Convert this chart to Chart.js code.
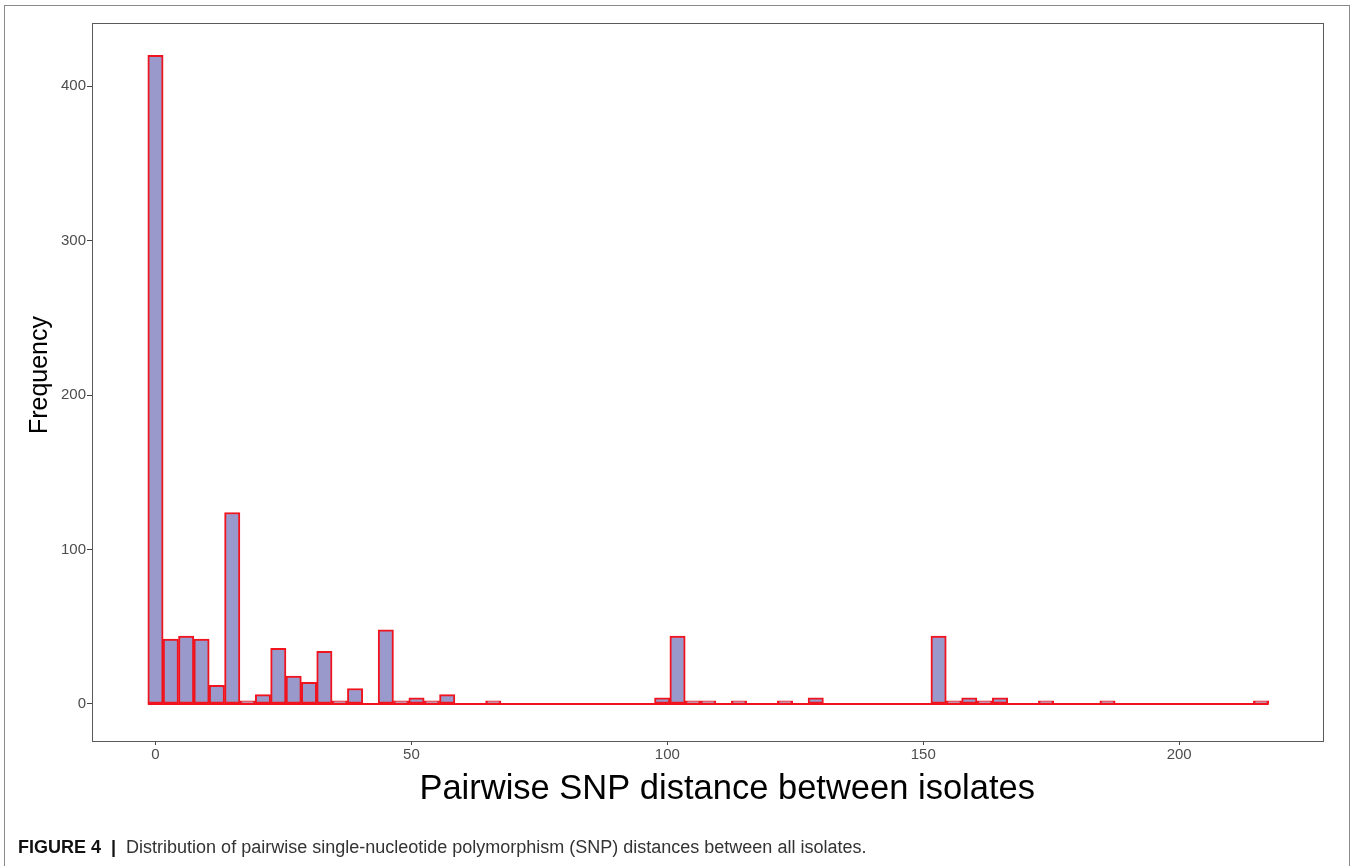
<!DOCTYPE html>
<html>
<head>
<meta charset="utf-8">
<script src="https://cdn.jsdelivr.net/npm/chart.js@4/dist/chart.umd.min.js"></script>
<style>
  html, body { margin: 0; padding: 0; background: #fff; }
  #wrap { position: relative; width: 1352px; height: 866px; overflow: hidden; }
  #frame { position: absolute; left: 4px; top: 5px; width: 1346px; height: 880px; border: 1px solid #8a8a8a; box-sizing: border-box; }
  #chartBox { position: absolute; left: 0; top: 0; width: 1352px; height: 866px; }
  #caption { position: absolute; left: 18px; top: 837px; font-family: "Liberation Sans", Arial, sans-serif; font-size: 18px; color: #333; white-space: nowrap; }
  #caption b { color: #111; }
</style>
</head>
<body>
<div id="wrap">
  <div id="frame"></div>
  <div id="chartBox"><canvas id="histCanvas"></canvas></div>
  <div id="caption"><b>FIGURE 4</b>&nbsp;&nbsp;<b>|</b>&nbsp;&nbsp;Distribution of pairwise single-nucleotide polymorphism (SNP) distances between all isolates.</div>
</div>
<script>
// ヒストグラムのビン（幅3、中心値）
const binCenters = [
  0, 3, 6, 9, 12, 15, 18, 21, 24, 27, 30, 33, 36, 39, 42, 45, 48, 51, 54, 57,
  60, 63, 66, 69, 72, 75, 78, 81, 84, 87, 90, 93, 96, 99, 102, 105, 108, 111, 114, 117,
  120, 123, 126, 129, 132, 135, 138, 141, 144, 147, 150, 153, 156, 159, 162, 165, 168, 171, 174, 177,
  180, 183, 186, 189, 192, 195, 198, 201, 204, 207, 210, 213, 216
];
const binWidth = 3;

// 各ビンの度数
const frequency = [
  420, 42, 44, 42, 12, 124, 2, 6, 36, 18, 14, 34, 2, 10, 0, 48, 2, 4, 2, 6,
  0, 0, 2, 0, 0, 0, 0, 0, 0, 0, 0, 0, 0, 4, 44, 2, 2, 0, 2, 0,
  0, 2, 0, 4, 0, 0, 0, 0, 0, 0, 0, 44, 2, 4, 2, 4, 0, 0, 2, 0,
  0, 0, 2, 0, 0, 0, 0, 0, 0, 0, 0, 0, 2
];

const xTicks = [0, 50, 100, 150, 200];
const yTicks = [0, 100, 200, 300, 400];

const sans = "'Liberation Sans', Arial, sans-serif";

// パネル枠線（上・右も含めて描く）
const panelBorder = {
  id: "panelBorder",
  afterDraw(chart) {
    const { ctx, chartArea: a } = chart;
    ctx.save();
    ctx.strokeStyle = "#5a5a5a";
    ctx.lineWidth = 1;
    ctx.strokeRect(Math.round(a.left) + 0.5, Math.round(a.top) + 0.5,
      Math.round(a.right - a.left) - 1, Math.round(a.bottom - a.top));
    ctx.restore();
  }
};

const barData = binCenters.map((x, i) => ({ x: x, y: frequency[i] }));
const first = binCenters[0] - binWidth / 2;
const last = binCenters[binCenters.length - 1] + binWidth / 2;

new Chart(document.getElementById("histCanvas"), {
  type: "bar",
  data: {
    datasets: [
      {
        label: "Frequency",
        data: barData,
        backgroundColor: "rgb(153, 153, 204)",
        borderColor: "rgb(240, 20, 30)",
        borderWidth: 2,
        borderSkipped: false,
        barPercentage: 1,
        categoryPercentage: 1,
        order: 2,
      },
      {
        type: "line",
        label: "baseline",
        data: [{ x: first, y: 0 }, { x: last, y: 0 }],
        borderColor: "rgb(240, 20, 30)",
        borderWidth: 2,
        pointRadius: 0,
        order: 1,
      },
    ],
  },
  options: {
    responsive: true,
    maintainAspectRatio: false,
    animation: false,
    layout: { padding: { left: 18, top: 23, right: 28, bottom: 52 } },
    plugins: {
      legend: { display: false },
      tooltip: { enabled: false },
    },
    scales: {
      x: {
        type: "linear",
        offset: false,
        min: -12.4,
        max: 228.3,
        afterFit: (s) => { s.height = 73; },
        afterBuildTicks: (s) => { s.ticks = xTicks.map((v) => ({ value: v })); },
        grid: { offset: false, drawOnChartArea: false, drawTicks: true, tickLength: 4, tickColor: "#444" },
        border: { display: false },
        ticks: { color: "#4d4d4d", padding: 1, font: { family: sans, size: 15 } },
        title: {
          display: true,
          text: "    Pairwise SNP distance between isolates",
          color: "#000",
          font: { family: sans, size: 34.5 },
          padding: { top: 4, bottom: 4 },
        },
      },
      y: {
        type: "linear",
        min: -24,
        max: 441,
        afterFit: (s) => { s.width = 74; },
        afterBuildTicks: (s) => { s.ticks = yTicks.map((v) => ({ value: v })); },
        grid: { drawOnChartArea: false, drawTicks: true, tickLength: 5, tickColor: "#444" },
        border: { display: false },
        ticks: { color: "#4d4d4d", padding: 1, font: { family: sans, size: 15 } },
        title: {
          display: true,
          text: "  Frequency",
          color: "#000",
          font: { family: sans, size: 25 },
          padding: { top: 7, bottom: 4 },
        },
      },
    },
  },
  plugins: [panelBorder],
});
</script>
</body>
</html>
